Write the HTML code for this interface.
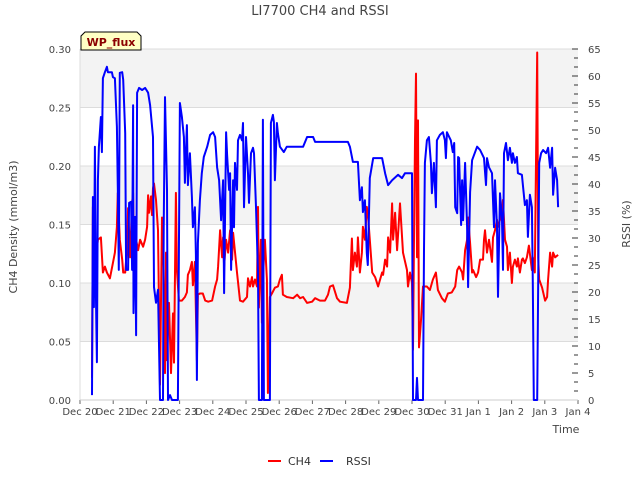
<!DOCTYPE html>
<html><head><meta charset="utf-8"><style>
body{margin:0;background:#fff;}
svg text{font-family:"DejaVu Sans","Liberation Sans",sans-serif;}
</style></head><body>
<svg id="chart" width="640" height="480" xmlns="http://www.w3.org/2000/svg">
<text x="320" y="15" text-anchor="middle" font-size="13" fill="#444">LI7700 CH4 and RSSI</text>
<g id="bands"></g>
<g id="axes"></g>
<g id="series"></g>
<text transform="translate(17,227) rotate(-90)" text-anchor="middle" font-size="11" fill="#444">CH4 Density (mmol/m3)</text>
<text transform="translate(630,224) rotate(-90)" text-anchor="middle" font-size="11" fill="#444">RSSI (%)</text>
<text x="566" y="433" text-anchor="middle" font-size="11" fill="#444">Time</text>
<g>
<path d="M81,50 L81,36 L85,32 L137,32 L141,36 L141,50 Z" fill="#ffffc4" stroke="#000" stroke-width="1"/>
<text x="111" y="46" text-anchor="middle" font-size="11" font-weight="bold" fill="#8b0000">WP_flux</text>
</g>
<g>
<g><line x1="268" y1="461" x2="281" y2="461" stroke="#f00" stroke-width="2"/><text x="288" y="465" font-size="11" fill="#333">CH4</text></g>
<g><line x1="320" y1="461" x2="333" y2="461" stroke="#00f" stroke-width="2"/><text x="346" y="465" font-size="11" fill="#333">RSSI</text></g>
</g>
</svg>
<script>
const xTickLabels=["Dec 20","Dec 21","Dec 22","Dec 23","Dec 24","Dec 25","Dec 26","Dec 27","Dec 28","Dec 29","Dec 30","Dec 31","Jan 1","Jan 2","Jan 3","Jan 4"];
const leftTicks=[0,0.05,0.10,0.15,0.20,0.25,0.30];
const rightTicks=[0,5,10,15,20,25,30,35,40,45,50,55,60,65];
const ch4Days=[0.36,0.39,0.45,0.48,0.54,0.63,0.69,0.75,0.81,0.90,0.99,1.05,1.11,1.14,1.20,1.27,1.30,1.36,1.42,1.45,1.51,1.57,1.60,1.63,1.69,1.75,1.81,1.90,1.96,2.02,2.05,2.08,2.14,2.17,2.20,2.23,2.29,2.35,2.41,2.47,2.50,2.56,2.59,2.62,2.68,2.74,2.80,2.83,2.89,2.92,2.98,3.07,3.16,3.22,3.25,3.31,3.37,3.40,3.46,3.52,3.55,3.61,3.70,3.77,3.86,3.98,4.07,4.13,4.16,4.22,4.28,4.31,4.34,4.40,4.46,4.52,4.58,4.61,4.73,4.82,4.91,5.03,5.06,5.12,5.18,5.21,5.27,5.33,5.36,5.39,5.45,5.48,5.51,5.57,5.63,5.66,5.72,5.78,5.87,5.96,6.02,6.08,6.11,6.23,6.42,6.54,6.63,6.72,6.84,6.99,7.08,7.23,7.38,7.47,7.53,7.62,7.74,7.83,8.04,8.13,8.19,8.22,8.28,8.34,8.37,8.43,8.49,8.52,8.58,8.64,8.67,8.73,8.80,8.89,8.98,9.10,9.13,9.19,9.25,9.28,9.34,9.40,9.43,9.49,9.55,9.64,9.73,9.85,9.88,9.94,10.00,10.03,10.06,10.09,10.12,10.15,10.18,10.21,10.27,10.33,10.45,10.54,10.63,10.72,10.78,10.90,10.99,11.08,11.20,11.30,11.36,11.42,11.51,11.54,11.60,11.66,11.69,11.75,11.81,11.84,11.93,11.99,12.05,12.14,12.17,12.20,12.26,12.32,12.41,12.44,12.50,12.56,12.59,12.65,12.71,12.74,12.80,12.86,12.89,12.95,13.01,13.04,13.10,13.16,13.19,13.25,13.31,13.34,13.40,13.46,13.52,13.61,13.64,13.70,13.77,13.80,13.83,13.92,14.01,14.07,14.10,14.16,14.22,14.25,14.31,14.40];
const ch4Values=[0.019,0.165,0.097,0.122,0.137,0.139,0.109,0.114,0.109,0.104,0.117,0.126,0.148,0.177,0.137,0.120,0.109,0.109,0.131,0.164,0.122,0.169,0.177,0.122,0.137,0.128,0.137,0.131,0.137,0.148,0.175,0.160,0.174,0.158,0.181,0.185,0.171,0.145,0.013,0.156,0.143,0.023,0.126,0.034,0.083,0.023,0.074,0.032,0.177,0.111,0.085,0.085,0.088,0.092,0.107,0.111,0.118,0.098,0.118,0.034,0.090,0.091,0.091,0.085,0.084,0.085,0.097,0.103,0.114,0.145,0.122,0.139,0.114,0.137,0.126,0.145,0.120,0.143,0.109,0.085,0.084,0.088,0.104,0.097,0.105,0.097,0.103,0.097,0.165,0.079,0.137,0.066,0.104,0.137,0.103,0.006,0.088,0.091,0.096,0.097,0.103,0.107,0.090,0.088,0.087,0.090,0.087,0.088,0.083,0.084,0.087,0.085,0.085,0.090,0.097,0.098,0.087,0.084,0.083,0.096,0.138,0.111,0.126,0.114,0.139,0.109,0.126,0.148,0.137,0.165,0.160,0.137,0.109,0.105,0.097,0.109,0.107,0.120,0.114,0.139,0.126,0.168,0.137,0.160,0.128,0.168,0.126,0.111,0.097,0.109,0.100,0.043,0.137,0.222,0.279,0.122,0.239,0.045,0.068,0.097,0.097,0.094,0.103,0.109,0.094,0.087,0.084,0.091,0.092,0.097,0.111,0.114,0.109,0.103,0.128,0.137,0.156,0.134,0.109,0.111,0.105,0.109,0.120,0.120,0.137,0.145,0.126,0.137,0.118,0.139,0.145,0.154,0.148,0.154,0.162,0.171,0.137,0.131,0.111,0.126,0.100,0.114,0.120,0.114,0.121,0.109,0.120,0.121,0.117,0.122,0.132,0.111,0.122,0.109,0.297,0.122,0.103,0.096,0.085,0.088,0.103,0.126,0.114,0.126,0.122,0.124];
const rssiDays=[0.36,0.39,0.42,0.45,0.48,0.51,0.54,0.57,0.63,0.66,0.69,0.75,0.81,0.84,0.96,0.99,1.05,1.11,1.14,1.17,1.20,1.27,1.30,1.36,1.39,1.45,1.48,1.54,1.57,1.60,1.61,1.66,1.69,1.72,1.78,1.87,1.96,2.05,2.11,2.20,2.23,2.29,2.35,2.41,2.50,2.52,2.56,2.62,2.65,2.71,2.77,2.95,3.01,3.07,3.13,3.16,3.22,3.25,3.31,3.37,3.40,3.46,3.49,3.52,3.55,3.61,3.67,3.73,3.83,3.92,4.01,4.07,4.13,4.19,4.25,4.31,4.34,4.40,4.43,4.49,4.52,4.55,4.61,4.64,4.67,4.73,4.76,4.82,4.88,4.91,4.94,5.00,5.06,5.09,5.15,5.21,5.24,5.30,5.36,5.39,5.48,5.51,5.54,5.72,5.75,5.81,5.84,5.87,5.93,5.96,6.02,6.14,6.23,6.72,6.84,7.02,7.08,7.92,8.07,8.13,8.22,8.37,8.43,8.49,8.52,8.58,8.64,8.67,8.73,8.83,9.10,9.19,9.28,9.40,9.58,9.70,9.79,10.00,10.03,10.12,10.15,10.18,10.33,10.36,10.39,10.45,10.51,10.57,10.60,10.66,10.72,10.75,10.84,10.93,10.99,11.02,11.05,11.17,11.23,11.27,11.30,11.36,11.39,11.42,11.48,11.51,11.54,11.60,11.66,11.69,11.75,11.81,11.96,12.05,12.17,12.23,12.26,12.32,12.41,12.47,12.50,12.56,12.59,12.65,12.71,12.74,12.77,12.83,12.89,12.95,13.01,13.04,13.10,13.16,13.19,13.31,13.34,13.40,13.46,13.49,13.55,13.61,13.64,13.67,13.77,13.83,13.89,13.95,14.04,14.10,14.16,14.22,14.25,14.31,14.37,14.40];
const rssiValues=[0.9,37.6,17.2,46.9,19.8,7.0,40.7,46.9,52.4,45.9,59.6,60.7,61.7,60.7,60.7,59.8,59.6,50.6,39.4,24.1,60.6,60.7,59.3,49.4,24.1,24.1,36.5,36.7,24.1,54.6,16.1,33.9,12.0,56.9,57.8,57.4,57.8,56.9,54.6,48.7,20.9,18.0,20.4,0,0,32.0,56.1,38.9,0,0.9,0,0,55.0,52.4,48.7,40.2,50.9,39.8,45.7,37.6,32.0,35.7,26.9,3.7,29.1,37.0,42.0,45.0,46.9,49.1,49.6,48.7,43.1,40.7,33.3,40.7,19.8,49.6,45.4,38.9,42.0,24.1,40.7,32.0,43.9,38.9,48.1,49.1,48.1,51.3,35.7,48.7,42.0,36.5,45.7,46.7,45.7,35.7,23.5,0,0,51.9,0,0,51.3,52.8,51.5,40.7,51.3,49.4,46.9,45.9,46.9,46.9,48.7,48.7,47.8,47.8,47.8,46.9,44.1,44.1,37.0,39.4,34.8,37.0,27.2,25.0,41.1,44.8,44.8,42.0,39.8,40.7,41.7,41.1,42.0,42.0,0,0,4.1,0,0,27.8,43.9,48.1,48.7,43.9,38.3,43.9,35.7,48.1,49.1,49.6,48.1,44.8,49.6,48.1,45.9,47.6,35.7,34.6,45.0,44.8,32.4,40.7,33.3,43.9,32.0,20.9,38.5,44.4,46.9,46.3,44.8,39.8,44.8,43.1,42.0,32.0,40.7,32.0,19.1,38.3,33.3,24.1,45.7,47.6,44.4,46.7,43.9,45.7,43.9,45.0,42.0,41.7,39.8,36.1,37.0,30.2,38.0,35.7,21.7,0,0,43.9,45.7,46.3,45.7,46.7,43.0,46.7,38.0,43.0,40.7,35.7];

const NS="http://www.w3.org/2000/svg";
const L=80,R=578,T=49,B=400;
function xS(d){return L+(R-L)*d/15;}
function yL(v){return B-(B-T)*v/0.30;}
function yR(v){return B-(B-T)*v/65;}
function mk(tag,attrs,parent){const e=document.createElementNS(NS,tag);for(const k in attrs)e.setAttribute(k,attrs[k]);parent.appendChild(e);return e;}
const bands=document.getElementById('bands'),axes=document.getElementById('axes'),series=document.getElementById('series');
for(let i=0;i<leftTicks.length-1;i++){
  if(i%2===1){const r=mk('rect',{x:L,y:yL(leftTicks[i+1]),width:R-L,height:yL(leftTicks[i])-yL(leftTicks[i+1]),fill:'#f3f3f3'},bands);
  
  }
}
leftTicks.forEach(v=>{
  const g=mk('line',{x1:L,x2:R,y1:yL(v),y2:yL(v),stroke:'#dcdcdc','stroke-width':1},bands);
  
  
  const t=mk('text',{x:71,y:yL(v)+4,'text-anchor':'end','font-size':10,fill:'#444'},axes);
  t.textContent=v.toFixed(2);
  
  
});
mk('line',{x1:L,x2:L,y1:T,y2:B,stroke:'#dcdcdc'},axes);
for(let v=0;v<=65.01;v+=65/39){mk('line',{x1:R-4,x2:R,y1:yR(v),y2:yR(v),stroke:'#333','stroke-width':1},axes);}
rightTicks.forEach(v=>{
  mk('line',{x1:R-6,x2:R,y1:yR(v),y2:yR(v),stroke:'#333'},axes);
  const t=mk('text',{x:588,y:yR(v)+4,'font-size':10,fill:'#444'},axes);
  t.textContent=v;
  
  
});
xTickLabels.forEach((s,i)=>{
  mk('line',{x1:xS(i),x2:xS(i),y1:B,y2:B+4,stroke:'#666'},axes);
  const t=mk('text',{x:xS(i),y:415,'text-anchor':'middle','font-size':10,fill:'#444'},axes);
  t.textContent=s;
  
  
});
mk('line',{x1:L,x2:R,y1:B,y2:B,stroke:'#ccc'},axes);
function poly(days,vals,yf,color,name){
  const p=mk('polyline',{points:days.map((d,i)=>xS(d).toFixed(1)+','+yf(vals[i]).toFixed(1)).join(' '),fill:'none',stroke:color,'stroke-width':2,'stroke-linejoin':'round'},series);
  
  
}
poly(ch4Days,ch4Values,yL,'#ff0000','ch4-line');
poly(rssiDays,rssiValues,yR,'#0000ff','rssi-line');
</script>
</body></html>
